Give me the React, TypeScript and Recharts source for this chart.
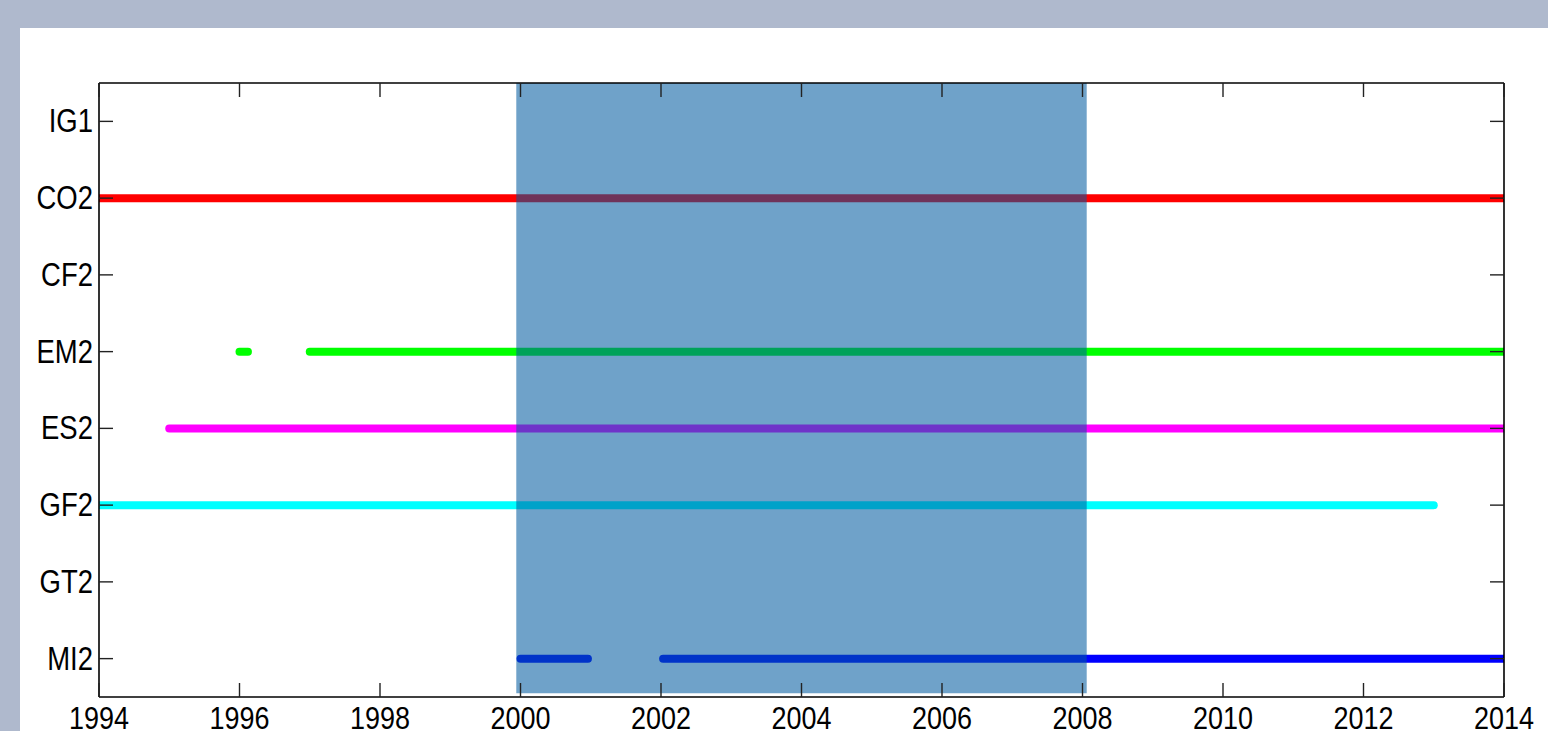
import { ComposedChart, Line, XAxis, YAxis, ReferenceArea } from 'recharts';

// y position = index + 1, bottom to top
const categories = ['MI2', 'GT2', 'GF2', 'ES2', 'EM2', 'CF2', 'CO2', 'IG1'];
const yearTicks = [1994, 1996, 1998, 2000, 2002, 2004, 2006, 2008, 2010, 2012, 2014];
const categoryTicks = [1, 2, 3, 4, 5, 6, 7, 8];

type Span = [number, number];
const co2Spans: Span[] = [[1994, 2014]];
const em2Spans: Span[] = [[1996, 1996.12], [1997, 2014]];
const es2Spans: Span[] = [[1995, 2014]];
const gf2Spans: Span[] = [[1994, 2013]];
const mi2Spans: Span[] = [[2000, 2000.96], [2002.03, 2014]];

// shaded period
const shadeStart = 1999.94;
const shadeEnd = 2008.06;

const series = [
  { name: 'CO2', color: '#ff0000', spans: co2Spans },
  { name: 'EM2', color: '#00ff00', spans: em2Spans },
  { name: 'ES2', color: '#ff00ff', spans: es2Spans },
  { name: 'GF2', color: '#00ffff', spans: gf2Spans },
  { name: 'MI2', color: '#0000ff', spans: mi2Spans },
];

const FONT = '"Liberation Sans", Arial, Helvetica, sans-serif';
const TICK = 14;

const BottomTick = (p: any) => (
  <g>
    <line x1={p.x} x2={p.x} y1={p.y} y2={p.y - TICK} stroke="#222" strokeWidth={1.4} />
    <text
      transform={`translate(${p.x},${p.y + 32}) scale(1,1.18)`}
      textAnchor="middle"
      fontSize={27}
      fontFamily={FONT}
      fill="#000"
    >
      {p.payload.value}
    </text>
  </g>
);

const TopTick = (p: any) => (
  <line x1={p.x} x2={p.x} y1={p.y} y2={p.y + TICK} stroke="#222" strokeWidth={1.4} />
);

const LeftTick = (p: any) => (
  <g>
    <line x1={p.x} x2={p.x + TICK} y1={p.y} y2={p.y} stroke="#222" strokeWidth={1.4} />
    <text
      transform={`translate(${p.x - 6},${p.y + 11}) scale(1,1.18)`}
      textAnchor="end"
      fontSize={27.5}
      fontFamily={FONT}
      fill="#000"
    >
      {categories[p.payload.value - 1]}
    </text>
  </g>
);

const RightTick = (p: any) => (
  <line x1={p.x} x2={p.x - TICK} y1={p.y} y2={p.y} stroke="#222" strokeWidth={1.4} />
);

export default function App() {
  const lines = series.flatMap((s) => {
    const y = categories.indexOf(s.name) + 1;
    return s.spans.map(([a, b], i) => (
      <Line
        key={`${s.name}-${i}`}
        data={[
          { x: a, y },
          { x: b, y },
        ]}
        dataKey="y"
        type="linear"
        stroke={s.color}
        strokeWidth={8}
        strokeLinecap="round"
        dot={false}
        activeDot={false}
        isAnimationActive={false}
      />
    ));
  });

  const axisLine = { stroke: '#000', strokeWidth: 1.6 };

  return (
    <div
      style={{
        position: 'absolute',
        left: 0,
        top: 0,
        width: 1548,
        height: 731,
        background: '#afb9cd',
        overflow: 'hidden',
      }}
    >
      <div style={{ position: 'absolute', left: 20, top: 28, width: 1528, height: 703, background: '#fff' }}>
        <ComposedChart width={1528} height={703} margin={{ top: 54, right: 43, bottom: 33, left: 78 }}>
          <XAxis
            dataKey="x"
            type="number"
            domain={[1994, 2014]}
            ticks={yearTicks}
            interval={0}
            allowDataOverflow
            height={1}
            tickSize={0}
            tickMargin={0}
            tickLine={false}
            axisLine={axisLine}
            tick={BottomTick}
          />
          <XAxis
            xAxisId="top"
            dataKey="x"
            type="number"
            orientation="top"
            domain={[1994, 2014]}
            ticks={yearTicks}
            interval={0}
            allowDataOverflow
            height={1}
            tickSize={0}
            tickMargin={0}
            tickLine={false}
            axisLine={axisLine}
            tick={TopTick}
          />
          <YAxis
            type="number"
            domain={[0.5, 8.5]}
            ticks={categoryTicks}
            interval={0}
            allowDataOverflow
            width={1}
            tickSize={0}
            tickMargin={0}
            tickLine={false}
            axisLine={axisLine}
            tick={LeftTick}
          />
          <YAxis
            yAxisId="right"
            orientation="right"
            type="number"
            domain={[0.5, 8.5]}
            ticks={categoryTicks}
            interval={0}
            allowDataOverflow
            width={1}
            tickSize={0}
            tickMargin={0}
            tickLine={false}
            axisLine={axisLine}
            tick={RightTick}
          />
          {lines}
          <ReferenceArea
            x1={shadeStart}
            x2={shadeEnd}
            y1={0.55}
            y2={8.5}
            fill="#005a9f"
            fillOpacity={0.565}
            stroke="none"
            zIndex={450}
            ifOverflow="hidden"
          />
        </ComposedChart>
      </div>
    </div>
  );
}
